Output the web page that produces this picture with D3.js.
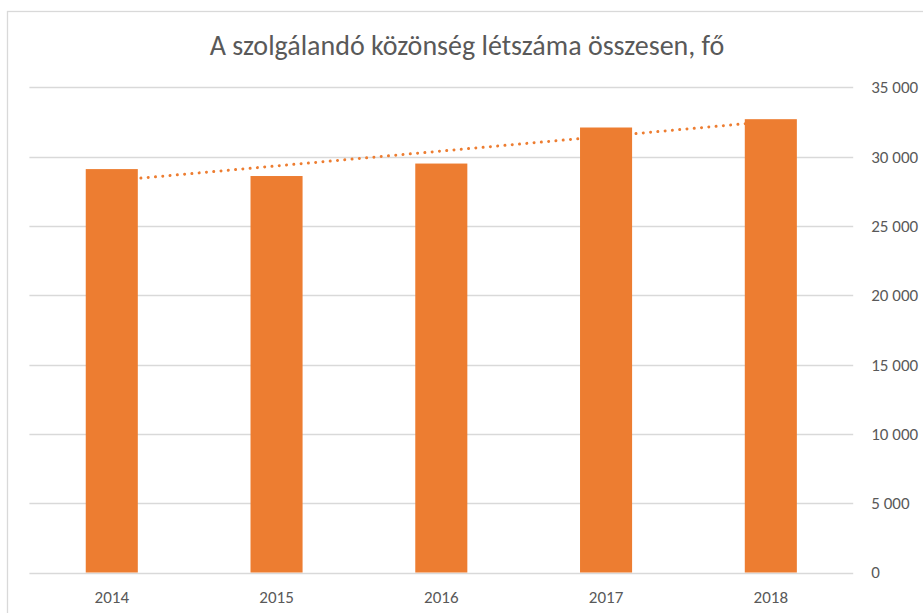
<!DOCTYPE html>
<html>
<head>
<meta charset="utf-8">
<script src="https://cdn.jsdelivr.net/npm/d3@7"></script>
<style>
  body { margin: 0; background: #fff; }
  svg { display: block; }
  text { font-family: "Carlito", "Liberation Sans Narrow", "Roboto Condensed", "Open Sans", sans-serif; fill: #595959; }
</style>
</head>
<body>
<div id="chart"></div>
<script>
// data
var years = ["2014", "2015", "2016", "2017", "2018"];
var audience = [29100, 28600, 29500, 32100, 32700];
var yTicks = [0, 5000, 10000, 15000, 20000, 25000, 30000, 35000];
var title = "A szolgálandó közönség létszáma összesen, fő";

let width = 923;
let height = 613;
let plotLeft = 29.4, plotRight = 853.2;
let plotTop = 87.3, plotBottom = 572.5;
let orange = "#ED7D31";
let gridColor = "#D9D9D9";

var svg = d3.select("#chart")
    .append("svg")
    .attr("width", width)
    .attr("height", height);

// chart frame
svg.append("rect")
    .attr("x", 7.5)
    .attr("y", 11.5)
    .attr("width", width)
    .attr("height", height)
    .attr("fill", "none")
    .attr("stroke", gridColor)
    .attr("stroke-width", 1.3);

svg.append("text")
    .attr("x", 467)
    .attr("y", 55)
    .attr("text-anchor", "middle")
    .style("font-size", "28px")
    .text(title);

var x = d3.scaleBand()
    .domain(years)
    .range([plotLeft, plotRight])
    .paddingInner(0.684)
    .paddingOuter(0.342);

var y = d3.scaleLinear()
    .domain([0, 35000])
    .range([plotBottom, plotTop]);

// grid lines
svg.append("g")
    .selectAll("line")
    .data(yTicks)
    .enter().append("line")
    .attr("x1", plotLeft)
    .attr("x2", plotRight)
    .attr("y1", d => Math.round(y(d)) + 0.5)
    .attr("y2", d => Math.round(y(d)) + 0.5)
    .attr("stroke", gridColor)
    .attr("stroke-width", 1.3);

// value axis on the right
var yAxis = svg.append("g")
    .attr("transform", "translate(" + plotRight + ",0)")
    .call(d3.axisRight(y)
        .tickValues(yTicks)
        .tickSize(0)
        .tickPadding(18)
        .tickFormat(d => d3.format(",")(d).replace(/,/g, " ")));
yAxis.select(".domain").remove();
yAxis.selectAll("text")
    .style("font-size", "17px")
    .attr("fill", "#595959");

// category axis
var xAxis = svg.append("g")
    .attr("transform", "translate(0," + plotBottom + ")")
    .call(d3.axisBottom(x).tickSize(0).tickPadding(18));
xAxis.select(".domain").remove();
xAxis.selectAll("text")
    .style("font-size", "17px")
    .attr("fill", "#595959");

// linear trend (least squares), drawn behind the bars
var n = audience.length;
var meanX = (n - 1) / 2;
var meanY = d3.mean(audience);
var slope = d3.sum(audience, (v, i) => (i - meanX) * (v - meanY)) /
            d3.sum(audience, (v, i) => (i - meanX) * (i - meanX));
var trend = [0, n - 1].map(i => ({ year: years[i], value: meanY + slope * (i - meanX) }));

svg.append("path")
    .datum(trend)
    .attr("d", d3.line()
        .x(d => x(d.year) + x.bandwidth() / 2)
        .y(d => y(d.value)))
    .attr("fill", "none")
    .attr("stroke", orange)
    .attr("stroke-width", 3)
    .attr("stroke-linecap", "round")
    .attr("stroke-dasharray", "0.01 7.3");

// bars
svg.append("g")
    .selectAll("rect")
    .data(audience)
    .enter().append("rect")
    .attr("x", (d, i) => x(years[i]))
    .attr("y", d => y(d))
    .attr("width", x.bandwidth())
    .attr("height", d => y(0) - y(d))
    .attr("fill", orange);
</script>
</body>
</html>
